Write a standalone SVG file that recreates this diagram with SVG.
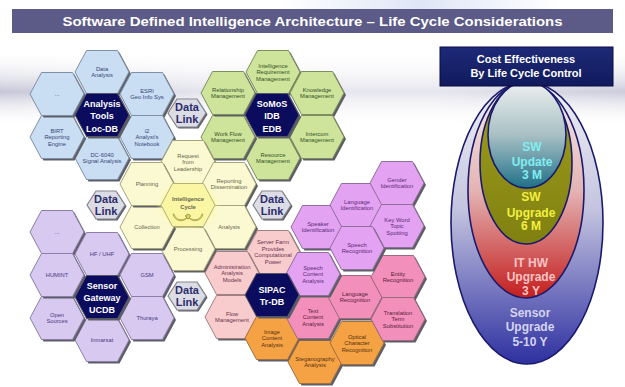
<svg xmlns="http://www.w3.org/2000/svg" xmlns:xlink="http://www.w3.org/1999/xlink" width="625" height="387" viewBox="0 0 625 387">
  <defs>
    <!-- flat-topped hex cells -->
    <path id="hex" d="M-27,0 L-15.5,-21.5 L15.5,-21.5 L27,0 L15.5,21.5 L-15.5,21.5 Z"/>
    <path id="dhex" d="M-19,0 L-10,-14 L10,-14 L19,0 L10,14 L-10,14 Z"/>
    <linearGradient id="band" x1="0" y1="0" x2="0" y2="1">
      <stop offset="0" stop-color="#ffffff" stop-opacity="0"/>
      <stop offset="0.55" stop-color="#c6c6d8"/>
      <stop offset="1" stop-color="#ffffff" stop-opacity="0"/>
    </linearGradient>
    <linearGradient id="bandFade" x1="0" y1="0" x2="1" y2="0">
      <stop offset="0" stop-color="#ffffff" stop-opacity="0"/>
      <stop offset="0.35" stop-color="#ffffff" stop-opacity="0.55"/>
      <stop offset="0.7" stop-color="#ffffff" stop-opacity="0.55"/>
      <stop offset="1" stop-color="#ffffff" stop-opacity="0.1"/>
    </linearGradient>
    <linearGradient id="topHaze" x1="0" y1="0" x2="1" y2="0">
      <stop offset="0" stop-color="#dfe6f6" stop-opacity="0"/>
      <stop offset="0.5" stop-color="#dfe6f6"/>
      <stop offset="1" stop-color="#dfe6f6" stop-opacity="0"/>
    </linearGradient>
    <linearGradient id="boxGrad" x1="0" y1="0" x2="0" y2="1">
      <stop offset="0" stop-color="#1e2a78"/>
      <stop offset="1" stop-color="#101a5c"/>
    </linearGradient>
    <linearGradient id="gSensor" x1="0" y1="0" x2="0" y2="1">
      <stop offset="0" stop-color="#f2f2f6"/>
      <stop offset="0.45" stop-color="#c4c4e0"/>
      <stop offset="1" stop-color="#2e30a0"/>
    </linearGradient>
    <linearGradient id="gHw" x1="0" y1="0" x2="0" y2="1">
      <stop offset="0" stop-color="#f6eeee"/>
      <stop offset="0.5" stop-color="#e4b4b4"/>
      <stop offset="1" stop-color="#c41e1e"/>
    </linearGradient>
    <linearGradient id="gSwUp" x1="0" y1="0" x2="0" y2="1">
      <stop offset="0" stop-color="#a0a020"/>
      <stop offset="1" stop-color="#808010"/>
    </linearGradient>
    <linearGradient id="gSwUd" x1="0" y1="0" x2="0" y2="1">
      <stop offset="0" stop-color="#eef0f0"/>
      <stop offset="0.5" stop-color="#a8c0c4"/>
      <stop offset="1" stop-color="#1f7088"/>
    </linearGradient>
    <radialGradient id="cycGlow">
      <stop offset="0.55" stop-color="#fff8a0"/>
      <stop offset="1" stop-color="#fff8a0" stop-opacity="0"/>
    </radialGradient>
    <style>
      .sh { fill: #5e5e66; }
      .blue use.f { fill: #c9def2; stroke: #7f8fa6; }
      .green use.f { fill: #cde49a; stroke: #7e8e5e; }
      .yellow use.f { fill: #fbf9d2; stroke: #a6a67a; }
      .purple use.f { fill: #d8c9f0; stroke: #8a7fa6; }
      .violet use.f { fill: #e3a2f2; stroke: #8f6f9c; }
      .lpink use.f { fill: #f8cccc; stroke: #a08080; }
      .hpink use.f { fill: #f28fba; stroke: #9a6a80; }
      .orange use.f { fill: #f4a244; stroke: #a07040; }
      .navy use.f { fill: #0c0c5e; stroke: #555566; }
      .dl use.f { fill: #dcdce4; stroke: #85858f; stroke-width: 1.2; }
      use.f { stroke-width: 1; }
      text { font-family: "Liberation Sans", Arial, sans-serif; text-anchor: middle; }
      .t { font-size: 5.8px; }
      .blue .t { fill: #34457a; }
      .green .t { fill: #34502a; }
      .yellow .t { fill: #66664e; }
      .purple .t { fill: #4a3a80; }
      .violet .t { fill: #5a2a78; }
      .lpink .t { fill: #6a3050; }
      .hpink .t { fill: #5a2040; }
      .orange .t { fill: #5a3010; }
      .nt { font-size: 9px; font-weight: bold; fill: #ffffff; }
      .dt { font-size: 11px; font-weight: bold; fill: #2c2c6c; }
      .ell { stroke: #1a1a6c; stroke-width: 1.6; }
      .lt { font-size: 12px; font-weight: bold; }
    </style>
  </defs>

  <!-- background -->
  <rect width="625" height="387" fill="#ffffff"/>
  <rect x="0" y="50" width="625" height="76" fill="url(#band)"/>
  <rect x="0" y="50" width="625" height="76" fill="url(#bandFade)"/>
  <rect x="280" y="0" width="280" height="9" fill="url(#topHaze)"/>

  <!-- title bar -->
  <g id="title">
    <rect x="12" y="9" width="601" height="24" fill="#5c5a86"/>
    <text x="312.5" y="26" font-size="13.5" font-weight="bold" fill="#ffffff" textLength="500" lengthAdjust="spacingAndGlyphs">Software Defined Intelligence Architecture – Life Cycle Considerations</text>
  </g>

  <!-- analysis tools cluster -->
  <g id="analysis-tools" class="blue">
    <g id="data-analysis" transform="translate(102,72)"><use href="#hex" class="sh" x="2" y="2"/><use href="#hex" class="f"/><text class="t"><tspan x="0" y="-1.25">Data</tspan><tspan x="0" y="5.25">Analysis</tspan></text></g>
    <g id="esri" transform="translate(147,94)"><use href="#hex" class="sh" x="2" y="2"/><use href="#hex" class="f"/><text class="t"><tspan x="0" y="-1.25">ESRI</tspan><tspan x="0" y="5.25">Geo Info Sys</tspan></text></g>
    <g id="i2" transform="translate(147,137)"><use href="#hex" class="sh" x="2" y="2"/><use href="#hex" class="f"/><text class="t"><tspan x="0" y="-4.5">i2</tspan><tspan x="0" y="2">Analyst's</tspan><tspan x="0" y="8.5">Notebook</tspan></text></g>
    <g id="dc6040" transform="translate(102,158)"><use href="#hex" class="sh" x="2" y="2"/><use href="#hex" class="f"/><text class="t"><tspan x="0" y="-1.25">DC-6040</tspan><tspan x="0" y="5.25">Signal Analysis</tspan></text></g>
    <g id="birt" transform="translate(57,137)"><use href="#hex" class="sh" x="2" y="2"/><use href="#hex" class="f"/><text class="t"><tspan x="0" y="-4.5">BIRT</tspan><tspan x="0" y="2">Reporting</tspan><tspan x="0" y="8.5">Engine</tspan></text></g>
    <g id="blue-misc" transform="translate(57,94)"><use href="#hex" class="sh" x="2" y="2"/><use href="#hex" class="f"/><text class="t" y="2" fill="#9aa4b8">...</text></g>
    <g id="analysis-core" class="navy" transform="translate(102,115)"><use href="#hex" class="sh" x="2" y="2"/><use href="#hex" class="f"/><text class="nt"><tspan x="0" y="-8.5">Analysis</tspan><tspan x="0" y="4">Tools</tspan><tspan x="0" y="16.5">Loc-DB</tspan></text></g>
  </g>

  <!-- management cluster -->
  <g id="somos" class="green">
    <g id="irm" transform="translate(273,72)"><use href="#hex" class="sh" x="2" y="2"/><use href="#hex" class="f"/><text class="t"><tspan x="0" y="-4.5">Intelligence</tspan><tspan x="0" y="2">Requirement</tspan><tspan x="0" y="8.5">Management</tspan></text></g>
    <g id="knowledge" transform="translate(317,93)"><use href="#hex" class="sh" x="2" y="2"/><use href="#hex" class="f"/><text class="t"><tspan x="0" y="-1.25">Knowledge</tspan><tspan x="0" y="5.25">Management</tspan></text></g>
    <g id="intercom" transform="translate(317,137)"><use href="#hex" class="sh" x="2" y="2"/><use href="#hex" class="f"/><text class="t"><tspan x="0" y="-1.25">Intercom</tspan><tspan x="0" y="5.25">Management</tspan></text></g>
    <g id="resource" transform="translate(273,158)"><use href="#hex" class="sh" x="2" y="2"/><use href="#hex" class="f"/><text class="t"><tspan x="0" y="-1.25">Resource</tspan><tspan x="0" y="5.25">Management</tspan></text></g>
    <g id="workflow" transform="translate(228,137)"><use href="#hex" class="sh" x="2" y="2"/><use href="#hex" class="f"/><text class="t"><tspan x="0" y="-1.25">Work Flow</tspan><tspan x="0" y="5.25">Management</tspan></text></g>
    <g id="relationship" transform="translate(228,93)"><use href="#hex" class="sh" x="2" y="2"/><use href="#hex" class="f"/><text class="t"><tspan x="0" y="-1.25">Relationship</tspan><tspan x="0" y="5.25">Management</tspan></text></g>
    <g id="somos-core" class="navy" transform="translate(272,115)"><use href="#hex" class="sh" x="2" y="2"/><use href="#hex" class="f"/><text class="nt"><tspan x="0" y="-8.5">SoMoS</tspan><tspan x="0" y="4">IDB</tspan><tspan x="0" y="16.5">EDB</tspan></text></g>
  </g>

  <!-- intelligence cycle cluster -->
  <g id="intel-cycle" class="yellow">
    <g id="request" transform="translate(188,162)"><use href="#hex" class="sh" x="2" y="2"/><use href="#hex" class="f"/><text class="t"><tspan x="0" y="-4.5">Request</tspan><tspan x="0" y="2">from</tspan><tspan x="0" y="8.5">Leadership</tspan></text></g>
    <g id="reporting" transform="translate(229,184)"><use href="#hex" class="sh" x="2" y="2"/><use href="#hex" class="f"/><text class="t"><tspan x="0" y="-1.25">Reporting</tspan><tspan x="0" y="5.25">Dissemination</tspan></text></g>
    <g id="analysis" transform="translate(229,227)"><use href="#hex" class="sh" x="2" y="2"/><use href="#hex" class="f"/><text class="t" y="2">Analysis</text></g>
    <g id="processing" transform="translate(188,249)"><use href="#hex" class="sh" x="2" y="2"/><use href="#hex" class="f"/><text class="t" y="2">Processing</text></g>
    <g id="collection" transform="translate(147,227)"><use href="#hex" class="sh" x="2" y="2"/><use href="#hex" class="f"/><text class="t" y="2">Collection</text></g>
    <g id="planning" transform="translate(147,184)"><use href="#hex" class="sh" x="2" y="2"/><use href="#hex" class="f"/><text class="t" y="2">Planning</text></g>
    <g id="cycle-core" transform="translate(188,205)">
      <ellipse cx="0" cy="0" rx="32" ry="26" fill="url(#cycGlow)"/>
      <use href="#hex" fill="#fbf6a4" stroke="#b4b07a"/>
      <text class="t" font-weight="bold" fill="#22224a"><tspan x="0" y="-4">Intelligence</tspan><tspan x="0" y="4">Cycle</tspan></text>
      <!-- cycle arrows -->
      <path d="M-14,9 C-12,16 -4,16 -1,12 L-3,11 L1,9 L1,14 L-1,13 C-5,18 -14,16 -15,9 Z" fill="#ece07a" stroke="#8a8a30" stroke-width="0.6"/>
      <path d="M14,9 C12,16 4,16 1,12 L3,11 L-1,9 L-1,14 L1,13 C5,18 14,16 15,9 Z" fill="#ece07a" stroke="#8a8a30" stroke-width="0.6"/>
    </g>
  </g>

  <!-- sensor gateway cluster -->
  <g id="sensor-gateway" class="purple">
    <g id="purple-misc" transform="translate(57,232)"><use href="#hex" class="sh" x="2" y="2"/><use href="#hex" class="f"/><text class="t" y="2" fill="#9a92b8">...</text></g>
    <g id="hf-uhf" transform="translate(102,254)"><use href="#hex" class="sh" x="2" y="2"/><use href="#hex" class="f"/><text class="t" y="2">HF / UHF</text></g>
    <g id="gsm" transform="translate(147,275)"><use href="#hex" class="sh" x="2" y="2"/><use href="#hex" class="f"/><text class="t" y="2">GSM</text></g>
    <g id="thuraya" transform="translate(147,318)"><use href="#hex" class="sh" x="2" y="2"/><use href="#hex" class="f"/><text class="t" y="2">Thuraya</text></g>
    <g id="inmarsat" transform="translate(102,340)"><use href="#hex" class="sh" x="2" y="2"/><use href="#hex" class="f"/><text class="t" y="2">Inmarsat</text></g>
    <g id="open-sources" transform="translate(57,318)"><use href="#hex" class="sh" x="2" y="2"/><use href="#hex" class="f"/><text class="t"><tspan x="0" y="-1.25">Open</tspan><tspan x="0" y="5.25">Sources</tspan></text></g>
    <g id="humint" transform="translate(57,275)"><use href="#hex" class="sh" x="2" y="2"/><use href="#hex" class="f"/><text class="t" y="2">HUMINT</text></g>
    <g id="sensor-core" class="navy" transform="translate(102,297)"><use href="#hex" class="sh" x="2" y="2"/><use href="#hex" class="f"/><text class="nt" font-family="Liberation Serif, serif"><tspan x="0" y="-8.5">Sensor</tspan><tspan x="0" y="3.5">Gateway</tspan><tspan x="0" y="15.5">UCDB</tspan></text></g>
  </g>

  <!-- SIPAC cluster -->
  <g id="sipac">
    <g id="server-farm" class="lpink" transform="translate(273,252)"><use href="#hex" class="sh" x="2" y="2"/><use href="#hex" class="f"/><text class="t"><tspan x="0" y="-7.75">Server Farm</tspan><tspan x="0" y="-1.25">Provides</tspan><tspan x="0" y="5.25">Computational</tspan><tspan x="0" y="11.75">Power</tspan></text></g>
    <g id="admin" class="lpink" transform="translate(232,273)"><use href="#hex" class="sh" x="2" y="2"/><use href="#hex" class="f"/><text class="t"><tspan x="0" y="-4.5">Administration</tspan><tspan x="0" y="2">Analysis</tspan><tspan x="0" y="8.5">Models</tspan></text></g>
    <g id="flow" class="lpink" transform="translate(232,317)"><use href="#hex" class="sh" x="2" y="2"/><use href="#hex" class="f"/><text class="t"><tspan x="0" y="-1.25">Flow</tspan><tspan x="0" y="5.25">Management</tspan></text></g>
    <g id="image-content" class="orange" transform="translate(272,338)"><use href="#hex" class="sh" x="2" y="2"/><use href="#hex" class="f"/><text class="t"><tspan x="0" y="-4.5">Image</tspan><tspan x="0" y="2">Content</tspan><tspan x="0" y="8.5">Analysis</tspan></text></g>
    <g id="steganography" class="orange" transform="translate(315,362)"><use href="#hex" class="sh" x="2" y="2"/><use href="#hex" class="f"/><text class="t"><tspan x="0" y="-1.25">Steganography</tspan><tspan x="0" y="5.25">Analysis</tspan></text></g>
    <g id="ocr" class="orange" transform="translate(357,343)"><use href="#hex" class="sh" x="2" y="2"/><use href="#hex" class="f"/><text class="t"><tspan x="0" y="-4.5">Optical</tspan><tspan x="0" y="2">Character</tspan><tspan x="0" y="8.5">Recognition</tspan></text></g>
    <g id="text-content" class="hpink" transform="translate(313,317)"><use href="#hex" class="sh" x="2" y="2"/><use href="#hex" class="f"/><text class="t"><tspan x="0" y="-4.5">Text</tspan><tspan x="0" y="2">Content</tspan><tspan x="0" y="8.5">Analysis</tspan></text></g>
    <g id="language-recognition" class="hpink" transform="translate(355,297)"><use href="#hex" class="sh" x="2" y="2"/><use href="#hex" class="f"/><text class="t"><tspan x="0" y="-1.25">Language</tspan><tspan x="0" y="5.25">Recognition</tspan></text></g>
    <g id="entity" class="hpink" transform="translate(398,277)"><use href="#hex" class="sh" x="2" y="2"/><use href="#hex" class="f"/><text class="t"><tspan x="0" y="-1.25">Entity</tspan><tspan x="0" y="5.25">Recognition</tspan></text></g>
    <g id="translation" class="hpink" transform="translate(398,319)"><use href="#hex" class="sh" x="2" y="2"/><use href="#hex" class="f"/><text class="t"><tspan x="0" y="-4.5">Translation</tspan><tspan x="0" y="2">Term</tspan><tspan x="0" y="8.5">Substitution</tspan></text></g>
    <g id="speech-content" class="violet" transform="translate(313,274)"><use href="#hex" class="sh" x="2" y="2"/><use href="#hex" class="f"/><text class="t"><tspan x="0" y="-4.5">Speech</tspan><tspan x="0" y="2">Content</tspan><tspan x="0" y="8.5">Analysis</tspan></text></g>
    <g id="speaker-id" class="violet" transform="translate(318,227)"><use href="#hex" class="sh" x="2" y="2"/><use href="#hex" class="f"/><text class="t"><tspan x="0" y="-1.25">Speaker</tspan><tspan x="0" y="5.25">Identification</tspan></text></g>
    <g id="language-id" class="violet" transform="translate(357,205)"><use href="#hex" class="sh" x="2" y="2"/><use href="#hex" class="f"/><text class="t"><tspan x="0" y="-1.25">Language</tspan><tspan x="0" y="5.25">Identification</tspan></text></g>
    <g id="gender-id" class="violet" transform="translate(397,183)"><use href="#hex" class="sh" x="2" y="2"/><use href="#hex" class="f"/><text class="t"><tspan x="0" y="-1.25">Gender</tspan><tspan x="0" y="5.25">Identification</tspan></text></g>
    <g id="keyword" class="violet" transform="translate(397,226)"><use href="#hex" class="sh" x="2" y="2"/><use href="#hex" class="f"/><text class="t"><tspan x="0" y="-4.5">Key Word</tspan><tspan x="0" y="2">Topic</tspan><tspan x="0" y="8.5">Spotting</tspan></text></g>
    <g id="speech-recognition" class="violet" transform="translate(357,248)"><use href="#hex" class="sh" x="2" y="2"/><use href="#hex" class="f"/><text class="t"><tspan x="0" y="-1.25">Speech</tspan><tspan x="0" y="5.25">Recognition</tspan></text></g>
    <g id="sipac-core" class="navy" transform="translate(272,295)"><use href="#hex" class="sh" x="2" y="2"/><use href="#hex" class="f"/><text class="nt"><tspan x="0" y="-2.5">SIPAC</tspan><tspan x="0" y="9.5">Tr-DB</tspan></text></g>
  </g>

  <!-- data link cells -->
  <g id="data-links" class="dl">
    <g id="data-link-1" transform="translate(187,113)"><use href="#dhex" class="sh" x="1.5" y="1.5"/><use href="#dhex" class="f" fill="#e2e0ee"/><text class="dt"><tspan x="0" y="-2">Data</tspan><tspan x="0" y="10">Link</tspan></text></g>
    <g id="data-link-2" transform="translate(106,205)"><use href="#dhex" class="sh" x="1.5" y="1.5"/><use href="#dhex" class="f"/><text class="dt"><tspan x="0" y="-2">Data</tspan><tspan x="0" y="10">Link</tspan></text></g>
    <g id="data-link-3" transform="translate(272,205)"><use href="#dhex" class="sh" x="1.5" y="1.5"/><use href="#dhex" class="f"/><text class="dt"><tspan x="0" y="-2">Data</tspan><tspan x="0" y="10">Link</tspan></text></g>
    <g id="data-link-4" transform="translate(187,296)"><use href="#dhex" class="sh" x="1.5" y="1.5"/><use href="#dhex" class="f"/><text class="dt"><tspan x="0" y="-2">Data</tspan><tspan x="0" y="10">Link</tspan></text></g>
  </g>

  <!-- life cycle nested ellipses -->
  <g id="life-cycle">
    <g id="sensor-upgrade">
      <ellipse class="ell" cx="527" cy="223" rx="76" ry="141" fill="url(#gSensor)"/>
      <text class="lt" fill="#d4d4f2"><tspan x="530" y="317">Sensor</tspan><tspan x="530" y="331">Upgrade</tspan><tspan x="530" y="346">5-10 Y</tspan></text>
    </g>
    <g id="it-hw-upgrade">
      <ellipse class="ell" cx="526" cy="190" rx="58" ry="108" fill="url(#gHw)"/>
      <text class="lt" fill="#f8c4c4"><tspan x="531" y="267">IT HW</tspan><tspan x="531" y="281">Upgrade</tspan><tspan x="531" y="295">3 Y</tspan></text>
    </g>
    <g id="sw-upgrade">
      <ellipse class="ell" cx="526" cy="163" rx="46" ry="81" fill="url(#gSwUp)"/>
      <text class="lt" fill="#f2f040"><tspan x="531" y="201">SW</tspan><tspan x="531" y="217">Upgrade</tspan><tspan x="531" y="230">6 M</tspan></text>
    </g>
    <g id="sw-update">
      <ellipse class="ell" cx="527" cy="135" rx="39" ry="53" fill="url(#gSwUd)"/>
      <text class="lt" fill="#80eef0"><tspan x="532" y="151">SW</tspan><tspan x="532" y="166">Update</tspan><tspan x="532" y="179">3 M</tspan></text>
    </g>
    <g id="cost-box">
      <rect x="440" y="47" width="173" height="39" fill="url(#boxGrad)" stroke="#0a0a40" stroke-width="1"/>
      <text font-size="11" font-weight="bold" fill="#ffffff"><tspan x="526" y="63">Cost Effectiveness</tspan><tspan x="526" y="77">By Life Cycle Control</tspan></text>
    </g>
  </g>
</svg>
